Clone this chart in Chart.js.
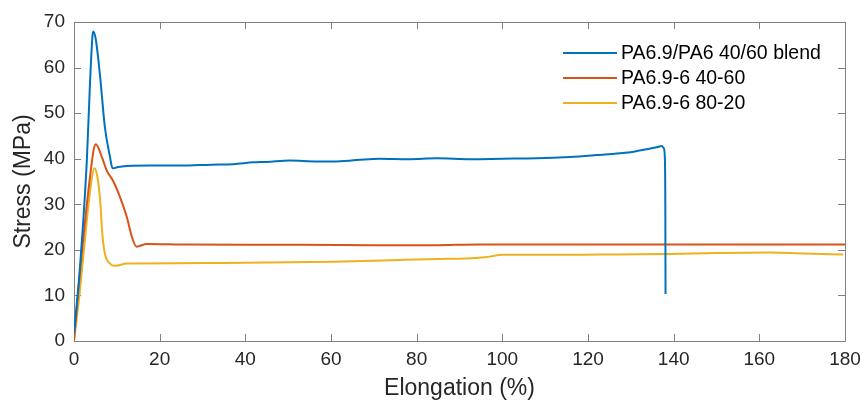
<!DOCTYPE html>
<html>
<head>
<meta charset="utf-8">
<script src="https://cdn.jsdelivr.net/npm/chart.js@4"></script>
<style>
  html, body { margin: 0; padding: 0; background: #fff; }
  #wrap { width: 862px; height: 404px; }
</style>
</head>
<body>
<div id="wrap"><canvas id="chart" width="862" height="404"></canvas></div>
<script>
// values: elongation (%) / stress (MPa)
const blendX = [0, 1.4, 3.0, 3.7, 4.3, 4.5, 5.1, 6.1, 7.2, 8.4, 9.0, 9.2, 10.3, 17.7, 25, 32, 37.2, 41.9, 45, 50.4, 56.7, 60.6, 66, 71.4, 78, 84.7, 92.5, 100, 108, 115.8, 122, 127.5, 131, 133.7, 136, 137.2, 137.7, 137.95, 138.05, 138.1]
const blendY = [1.7, 16.3, 39.7, 55.8, 66.8, 67.9, 66.1, 58, 47, 40.4, 37.9, 37.9, 38.2, 38.5, 38.5, 38.7, 38.8, 39.2, 39.3, 39.6, 39.4, 39.4, 39.7, 40.0, 39.9, 40.1, 39.9, 40.0, 40.1, 40.4, 40.8, 41.2, 41.6, 42.1, 42.5, 42.8, 42.3, 40, 30, 10.3]

const pa4060X = [0, 1, 2, 3, 4, 4.6, 5.1, 6.5, 7.6, 9.2, 10.7, 12.3, 13.5, 14.6, 17, 25, 40, 52.8, 70, 83.8, 94.8, 110, 140, 160, 180]
const pa4060Y = [0, 11, 21, 30, 38, 42, 43.2, 40.4, 37.5, 35.0, 31.7, 27.3, 22.9, 20.7, 21.3, 21.2, 21.1, 21.1, 21.0, 21.0, 21.2, 21.2, 21.2, 21.2, 21.2]

const pa8020X = [0, 1.4, 3.0, 4.1, 4.75, 5.45, 6.1, 6.6, 7.2, 8.4, 9.6, 12.3, 13.8, 30, 45, 60.5, 76.1, 85, 91.7, 96, 100.2, 108, 115.8, 127, 139.2, 150, 162.5, 170.3, 179.6]
const pa8020Y = [0, 11.2, 26.5, 35.3, 37.9, 36.1, 30.9, 23.6, 19.2, 17.0, 16.5, 17.0, 17.0, 17.1, 17.2, 17.4, 17.8, 18.0, 18.1, 18.4, 18.9, 18.9, 18.9, 19.0, 19.1, 19.3, 19.4, 19.2, 19.0]

const seriesNames = ['PA6.9/PA6 40/60 blend', 'PA6.9-6 40-60', 'PA6.9-6 80-20']
const seriesColors = ['#0072BD', '#D95319', '#EDB120']

const xMin = 0, xMax = 180, xStep = 20
const yMin = 0, yMax = 70, yStep = 10

const textColor = '#262626'
const fontName = '"Liberation Sans", Arial, Helvetica, sans-serif'

function pts(xs, ys){
    return xs.map((x, i) => ({x: x, y: ys[i]}))
}

const chartData = {
    datasets: [
        {label: seriesNames[0], data: pts(blendX, blendY)},
        {label: seriesNames[1], data: pts(pa4060X, pa4060Y)},
        {label: seriesNames[2], data: pts(pa8020X, pa8020Y)}
    ].map((ds, i) => Object.assign(ds, {
        showLine: true,
        borderColor: seriesColors[i],
        backgroundColor: seriesColors[i],
        borderWidth: 2,
        pointRadius: 0,
        cubicInterpolationMode: 'monotone',
        fill: false
    }))
}

// MATLAB style box with inward ticks on all four sides
const boxPlugin = {
    id: 'box',
    beforeDatasetsDraw(chart){
        const {ctx, chartArea: a, scales} = chart
        const tl = 7
        ctx.save()
        ctx.strokeStyle = '#808080'
        ctx.lineWidth = 1
        ctx.beginPath()
        ctx.rect(Math.round(a.left) + 0.5, Math.round(a.top) + 0.5, Math.round(a.right - a.left), Math.round(a.bottom - a.top))
        scales.x.ticks.forEach(t => {
            const px = Math.round(scales.x.getPixelForValue(t.value)) + 0.5
            ctx.moveTo(px, a.bottom); ctx.lineTo(px, a.bottom - tl)
            ctx.moveTo(px, a.top); ctx.lineTo(px, a.top + tl)
        })
        scales.y.ticks.forEach(t => {
            const py = Math.round(scales.y.getPixelForValue(t.value)) + 0.5
            ctx.moveTo(a.left, py); ctx.lineTo(a.left + tl, py)
            ctx.moveTo(a.right, py); ctx.lineTo(a.right - tl, py)
        })
        ctx.stroke()
        ctx.restore()
    }
}

// legend drawn inside the plot, top right, no frame
const legendPlugin = {
    id: 'innerLegend',
    afterDatasetsDraw(chart){
        const {ctx} = chart
        const x0 = 563, lineLen = 54, gap = 4, y0 = 53, rowH = 25
        ctx.save()
        ctx.font = '19.5px ' + fontName
        ctx.textBaseline = 'middle'
        ctx.textAlign = 'left'
        chart.data.datasets.forEach((ds, i) => {
            const y = y0 + i * rowH
            ctx.strokeStyle = ds.borderColor
            ctx.lineWidth = 2
            ctx.beginPath()
            ctx.moveTo(x0, y); ctx.lineTo(x0 + lineLen, y)
            ctx.stroke()
            ctx.fillStyle = '#000'
            ctx.fillText(ds.label, x0 + lineLen + gap, y + 1)
        })
        ctx.restore()
    }
}

let chart = new Chart(document.querySelector('#chart'), {
    type: 'scatter',
    data: chartData,
    options: {
        responsive: false,
        animation: false,
        layout: {padding: {top: 22, right: 0, left: 0, bottom: 0}},
        plugins: {legend: {display: false}, tooltip: {enabled: false}},
        scales: {
            x: {
                type: 'linear',
                min: xMin, max: xMax,
                grid: {display: false, drawTicks: false},
                border: {display: false},
                ticks: {stepSize: xStep, color: textColor, padding: 7, font: {family: fontName, size: 19}},
                title: {display: true, text: 'Elongation (%)', color: textColor, font: {family: fontName, size: 23}, padding: {top: 0, bottom: 2}},
                afterFit: s => { s.height = 404 - 341; s.paddingLeft = 0; s.paddingRight = 17 }
            },
            y: {
                min: yMin, max: yMax,
                grid: {display: false, drawTicks: false},
                border: {display: false},
                ticks: {stepSize: yStep, color: textColor, padding: 9, font: {family: fontName, size: 19}},
                title: {display: true, text: 'Stress (MPa)', color: textColor, font: {family: fontName, size: 23}, padding: {top: 10, bottom: 0}},
                afterFit: s => { s.width = 74; s.paddingTop = 0; s.paddingBottom = 0 }
            }
        }
    },
    plugins: [boxPlugin, legendPlugin]
})
</script>
</body>
</html>
